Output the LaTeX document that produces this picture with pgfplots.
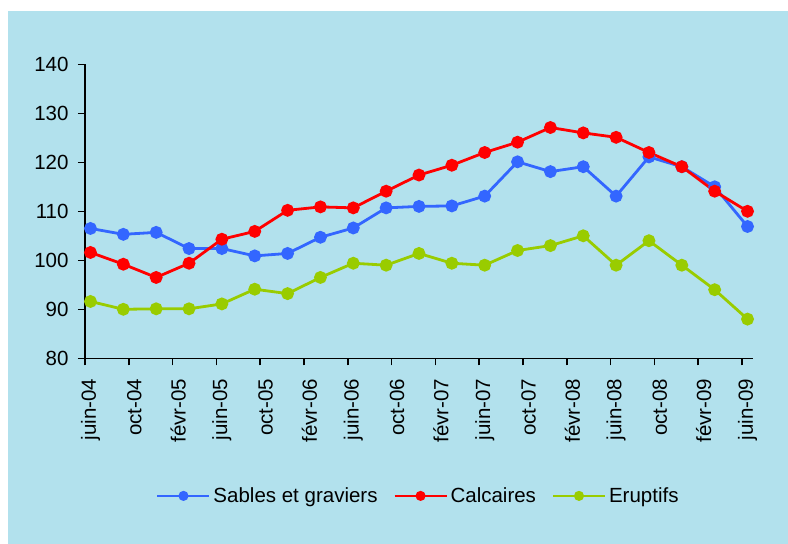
\documentclass[border=0pt]{standalone}
\usepackage{pgfplots}
\pgfplotsset{compat=1.18}
\usepackage{fontspec}
\setmainfont{Liberation Sans}
\definecolor{bgblue}{RGB}{178,225,237}
\definecolor{sblue}{RGB}{51,102,255}
\definecolor{sred}{RGB}{255,0,0}
\definecolor{sgreen}{RGB}{153,204,0}
\begin{document}
\begin{tikzpicture}[x=1pt,y=1pt]
\fill[white] (0,0) rectangle (788,544);
\fill[bgblue] (8,0) rectangle (788,533);
\begin{axis}[
  at={(85pt,185.7pt)}, anchor=south west,
  scale only axis, width=668pt, height=294pt,
  xmin=-0.5, xmax=60.5, ymin=80, ymax=140,
  axis line style={draw=none},
  xtick pos=left, ytick pos=left,
  tick style={draw=black, line width=1.5pt},
  every major x tick/.append style={draw=none},
  every minor x tick/.append style={draw=black, line width=1.5pt},
  xtick align=outside, ytick align=outside,
  ytick={80,90,...,140},
  major tick length=7pt,
  minor tick length=7pt,
  xtick={0,4,...,60},
  xticklabels={juin-04,oct-04,févr-05,juin-05,oct-05,févr-06,juin-06,oct-06,févr-07,juin-07,oct-07,févr-08,juin-08,oct-08,févr-09,juin-09},
  minor xtick={-0.5,3.5,...,59.5},
  xticklabel style={rotate=90, anchor=east, xshift=-10pt},
  tick label style={font=\fontsize{20.5}{24}\selectfont},
  /pgf/number format/assume math mode=true,
  yticklabel style={xshift=-6pt},
  clip=false,
  legend style={font=\fontsize{20.5}{24}\selectfont, draw=none, fill=none,
    at={(0.5,-0.468)}, anchor=center, legend columns=3,
    /tikz/every even column/.append style={column sep=13pt},
    nodes={inner xsep=3pt}},
  legend image code/.code={\draw[mark repeat=2,mark phase=2,#1,line width=2pt,mark size=4pt] plot coordinates {(0pt,0pt) (26pt,0pt) (52pt,0pt)};},
]
\draw[black, line width=1.5pt] (axis cs:-0.5,140) -- (axis cs:-0.5,80) -- (axis cs:60.5,80);
\addplot[sblue, line width=2.8pt, mark=*, mark size=5pt, mark options={solid,fill=sblue,draw=sblue}] coordinates {
(0,106.5) (3,105.3) (6,105.7) (9,102.4) (12,102.4) (15,100.9) (18,101.4) (21,104.7) (24,106.6) (27,110.7) (30,111.0) (33,111.1) (36,113.1) (39,120.1) (42,118.1) (45,119.1) (48,113.1) (51,121.1) (54,119.1) (57,115.0) (60,106.9)};
\addlegendentry{Sables et graviers}
\addplot[sred, line width=2.8pt, mark=*, mark size=5pt, mark options={solid,fill=sred,draw=sred}] coordinates {
(0,101.6) (3,99.2) (6,96.5) (9,99.4) (12,104.3) (15,105.9) (18,110.2) (21,110.9) (24,110.7) (27,114.1) (30,117.4) (33,119.4) (36,122.0) (39,124.1) (42,127.1) (45,126.0) (48,125.1) (51,122.0) (54,119.1) (57,114.1) (60,110.0)};
\addlegendentry{Calcaires}
\addplot[sgreen, line width=2.8pt, mark=*, mark size=5pt, mark options={solid,fill=sgreen,draw=sgreen}] coordinates {
(0,91.6) (3,90.0) (6,90.1) (9,90.1) (12,91.1) (15,94.1) (18,93.2) (21,96.5) (24,99.4) (27,99.0) (30,101.4) (33,99.4) (36,99.0) (39,102.0) (42,103.0) (45,105.0) (48,99.0) (51,104.0) (54,99.0) (57,94.0) (60,88.0)};
\addlegendentry{Eruptifs}
\end{axis}
\end{tikzpicture}
\end{document}
